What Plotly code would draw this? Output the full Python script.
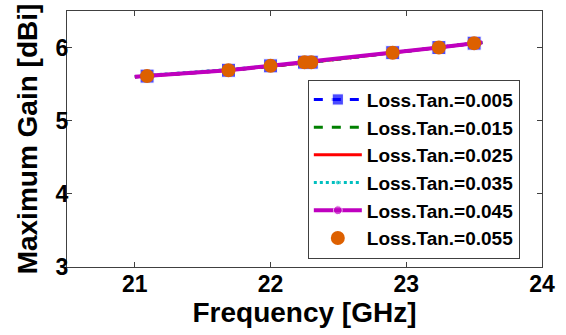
import plotly.graph_objects as go

# Data
freq_pts = [21.09, 21.69, 22.0, 22.25, 22.3, 22.9, 23.24, 23.5]
line_start = 21.0
line_end = 23.56

gain_005 = [5.61, 5.69, 5.75, 5.80, 5.80, 5.93, 6.00, 6.06]
gain_015 = [5.61, 5.69, 5.75, 5.80, 5.80, 5.93, 6.00, 6.06]
gain_025 = [5.61, 5.69, 5.75, 5.80, 5.80, 5.93, 6.00, 6.06]
gain_035 = [5.62, 5.70, 5.75, 5.80, 5.80, 5.93, 6.00, 6.06]
gain_045 = [5.61, 5.69, 5.75, 5.80, 5.80, 5.93, 6.00, 6.06]
gain_055 = [5.61, 5.69, 5.75, 5.80, 5.80, 5.93, 6.00, 6.06]
gain_start = 5.60
gain_end = 6.07

labels = ["Loss.Tan.=0.005", "Loss.Tan.=0.015", "Loss.Tan.=0.025",
          "Loss.Tan.=0.035", "Loss.Tan.=0.045", "Loss.Tan.=0.055"]

x_ticks = [21, 22, 23, 24]
y_ticks = [3, 4, 5, 6]

FONT = "Liberation Sans"

fx = [line_start] + freq_pts + [line_end]


def ext(g):
    return [gain_start] + g + [gain_end]


def msizes(s):
    return [0] + [s] * len(freq_pts) + [0]


fig = go.Figure()
fig.add_trace(go.Scatter(x=fx, y=ext(gain_005), name=labels[0], mode="lines+markers",
                         line=dict(color="#0000FF", width=3, dash="dash"),
                         marker=dict(symbol="square", size=msizes(14), color="#0000FF")))
fig.add_trace(go.Scatter(x=fx, y=ext(gain_015), name=labels[1], mode="lines",
                         line=dict(color="#008000", width=3, dash="dash")))
fig.add_trace(go.Scatter(x=fx, y=ext(gain_025), name=labels[2], mode="lines",
                         line=dict(color="#FF0000", width=3)))
fig.add_trace(go.Scatter(x=fx, y=ext(gain_035), name=labels[3], mode="lines+markers",
                         line=dict(color="#00BFBF", width=3, dash="dot"),
                         marker=dict(symbol="circle", size=msizes(6), color="#00BFBF")))
fig.add_trace(go.Scatter(x=fx, y=ext(gain_045), name=labels[4], mode="lines+markers",
                         line=dict(color="#BF00BF", width=4),
                         marker=dict(symbol="circle", size=msizes(11), color="#BF00BF")))
fig.add_trace(go.Scatter(x=freq_pts, y=gain_055, name=labels[5], mode="markers",
                         marker=dict(symbol="circle", size=14, color="#DD6000")))

axis_common = dict(
    showline=True, linecolor="#404040", linewidth=1, mirror="ticks",
    ticks="inside", ticklen=5, tickcolor="#404040", tickwidth=1,
    showgrid=False, zeroline=False, automargin=False,
    tickfont=dict(family=FONT, size=23, color="black", weight="bold"),
)

fig.update_layout(
    width=566, height=335,
    margin=dict(l=67, r=24, t=11, b=68),
    paper_bgcolor="white", plot_bgcolor="white",
    font=dict(family=FONT, color="black"),
    xaxis=dict(range=[20.5, 24], tickvals=x_ticks, ticktext=[str(v) for v in x_ticks],
               ticklabelstandoff=-4,
               title=dict(text="<b>Frequency [GHz]</b>", font=dict(family=FONT, size=28), standoff=0),
               **axis_common),
    yaxis=dict(range=[3, 6.5], tickvals=y_ticks, ticktext=[str(v) for v in y_ticks],
               ticklabelstandoff=-7,
               title=dict(text="<b>Maximum Gain [dBi]</b>", font=dict(family=FONT, size=28), standoff=9),
               **axis_common),
    legend=dict(x=0.507, y=0.732, xanchor="left", yanchor="top",
                bgcolor="white", bordercolor="#404040", borderwidth=1,
                font=dict(family=FONT, size=19, color="black", weight="bold"),
                itemwidth=48, tracegroupgap=0),
    showlegend=True,
)

fig.write_html("out.html", config={"displayModeBar": False},
               post_script="document.body.style.margin='0px';")
